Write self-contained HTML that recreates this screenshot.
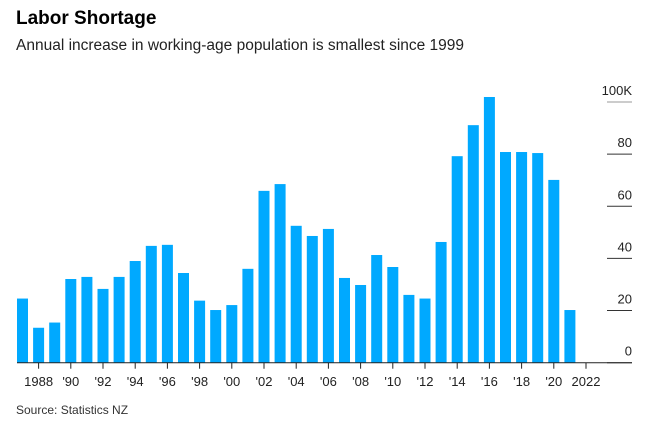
<!DOCTYPE html>
<html><head><meta charset="utf-8"><style>
body{margin:0;background:#fff;font-family:"Liberation Sans",sans-serif;}
#wrap{position:relative;width:649px;height:426px;overflow:hidden}
.t{position:absolute;left:16px;white-space:nowrap;color:#000}
</style></head><body>
<div id="wrap">
<div class="t" style="top:8px;font-size:19px;font-weight:bold;">Labor Shortage</div>
<div class="t" style="top:37px;font-size:15.5px;color:#222">Annual increase in working-age population is smallest since 1999</div>
<div class="t" style="top:403px;font-size:12px;color:#333">Source: Statistics NZ</div>
<svg id="chart" width="649" height="426" style="position:absolute;left:0;top:0"></svg>
</div>
<script>
const years=[1987,1988,1989,1990,1991,1992,1993,1994,1995,1996,1997,1998,1999,2000,2001,2002,2003,2004,2005,2006,2007,2008,2009,2010,2011,2012,2013,2014,2015,2016,2017,2018,2019,2020,2021];
const values=[24.6,13.4,15.4,32.1,32.9,28.3,32.9,39.0,44.8,45.2,34.4,23.8,20.2,22.1,36.0,65.9,68.5,52.5,48.6,51.3,32.5,29.8,41.3,36.7,26.0,24.6,46.3,79.2,91.1,101.9,80.8,80.8,80.4,70.1,20.2];
const yTicks=[0,20,40,60,80,100];
const yTickLabels=["0","20","40","60","80","100K"];
const xTickYears=[1988,1990,1992,1994,1996,1998,2000,2002,2004,2006,2008,2010,2012,2014,2016,2018,2020,2022];
const xTickLabels=["1988","'90","'92","'94","'96","'98","'00","'02","'04","'06","'08","'10","'12","'14","'16","'18","'20","2022"];
const svg=document.getElementById('chart');
const NS='http://www.w3.org/2000/svg';
const base=362.7, pxPer=52.15/20, x0=17, step=16.1, bw=11;
function y(v){return base-v*pxPer;}
function xc(yr){return x0+bw/2+(yr-1987)*step;}
function mk(t,a){const e=document.createElementNS(NS,t);for(const k in a)e.setAttribute(k,a[k]);svg.appendChild(e);return e;}
yTicks.forEach((v,i)=>{
  const l=mk('line',{x1:607,x2:632,y1:y(v),y2:y(v),stroke:v===100?'#999':'#333','stroke-width':1});
  
  
  const t=mk('text',{x:632,y:y(v)-7,'text-anchor':'end','font-size':13,fill:'#222','font-family':'Liberation Sans'});
  t.textContent=yTickLabels[i];
  
  
});
years.forEach((yr,i)=>{
  const r=mk('rect',{x:xc(yr)-bw/2,y:y(values[i]),width:bw,height:base-y(values[i]),fill:'#00a9ff'});
  
  
});
const ax=mk('line',{x1:17,x2:632,y1:base,y2:base,stroke:'#222','stroke-width':1});


xTickYears.forEach((yr,i)=>{
  const tk=mk('line',{x1:xc(yr),x2:xc(yr),y1:base,y2:base+6,stroke:'#222','stroke-width':1});
  
  
  const t=mk('text',{x:xc(yr),y:386,'text-anchor':'middle','font-size':13,fill:'#222','font-family':'Liberation Sans'});
  t.textContent=xTickLabels[i];
  
  
});
</script>
</body></html>
